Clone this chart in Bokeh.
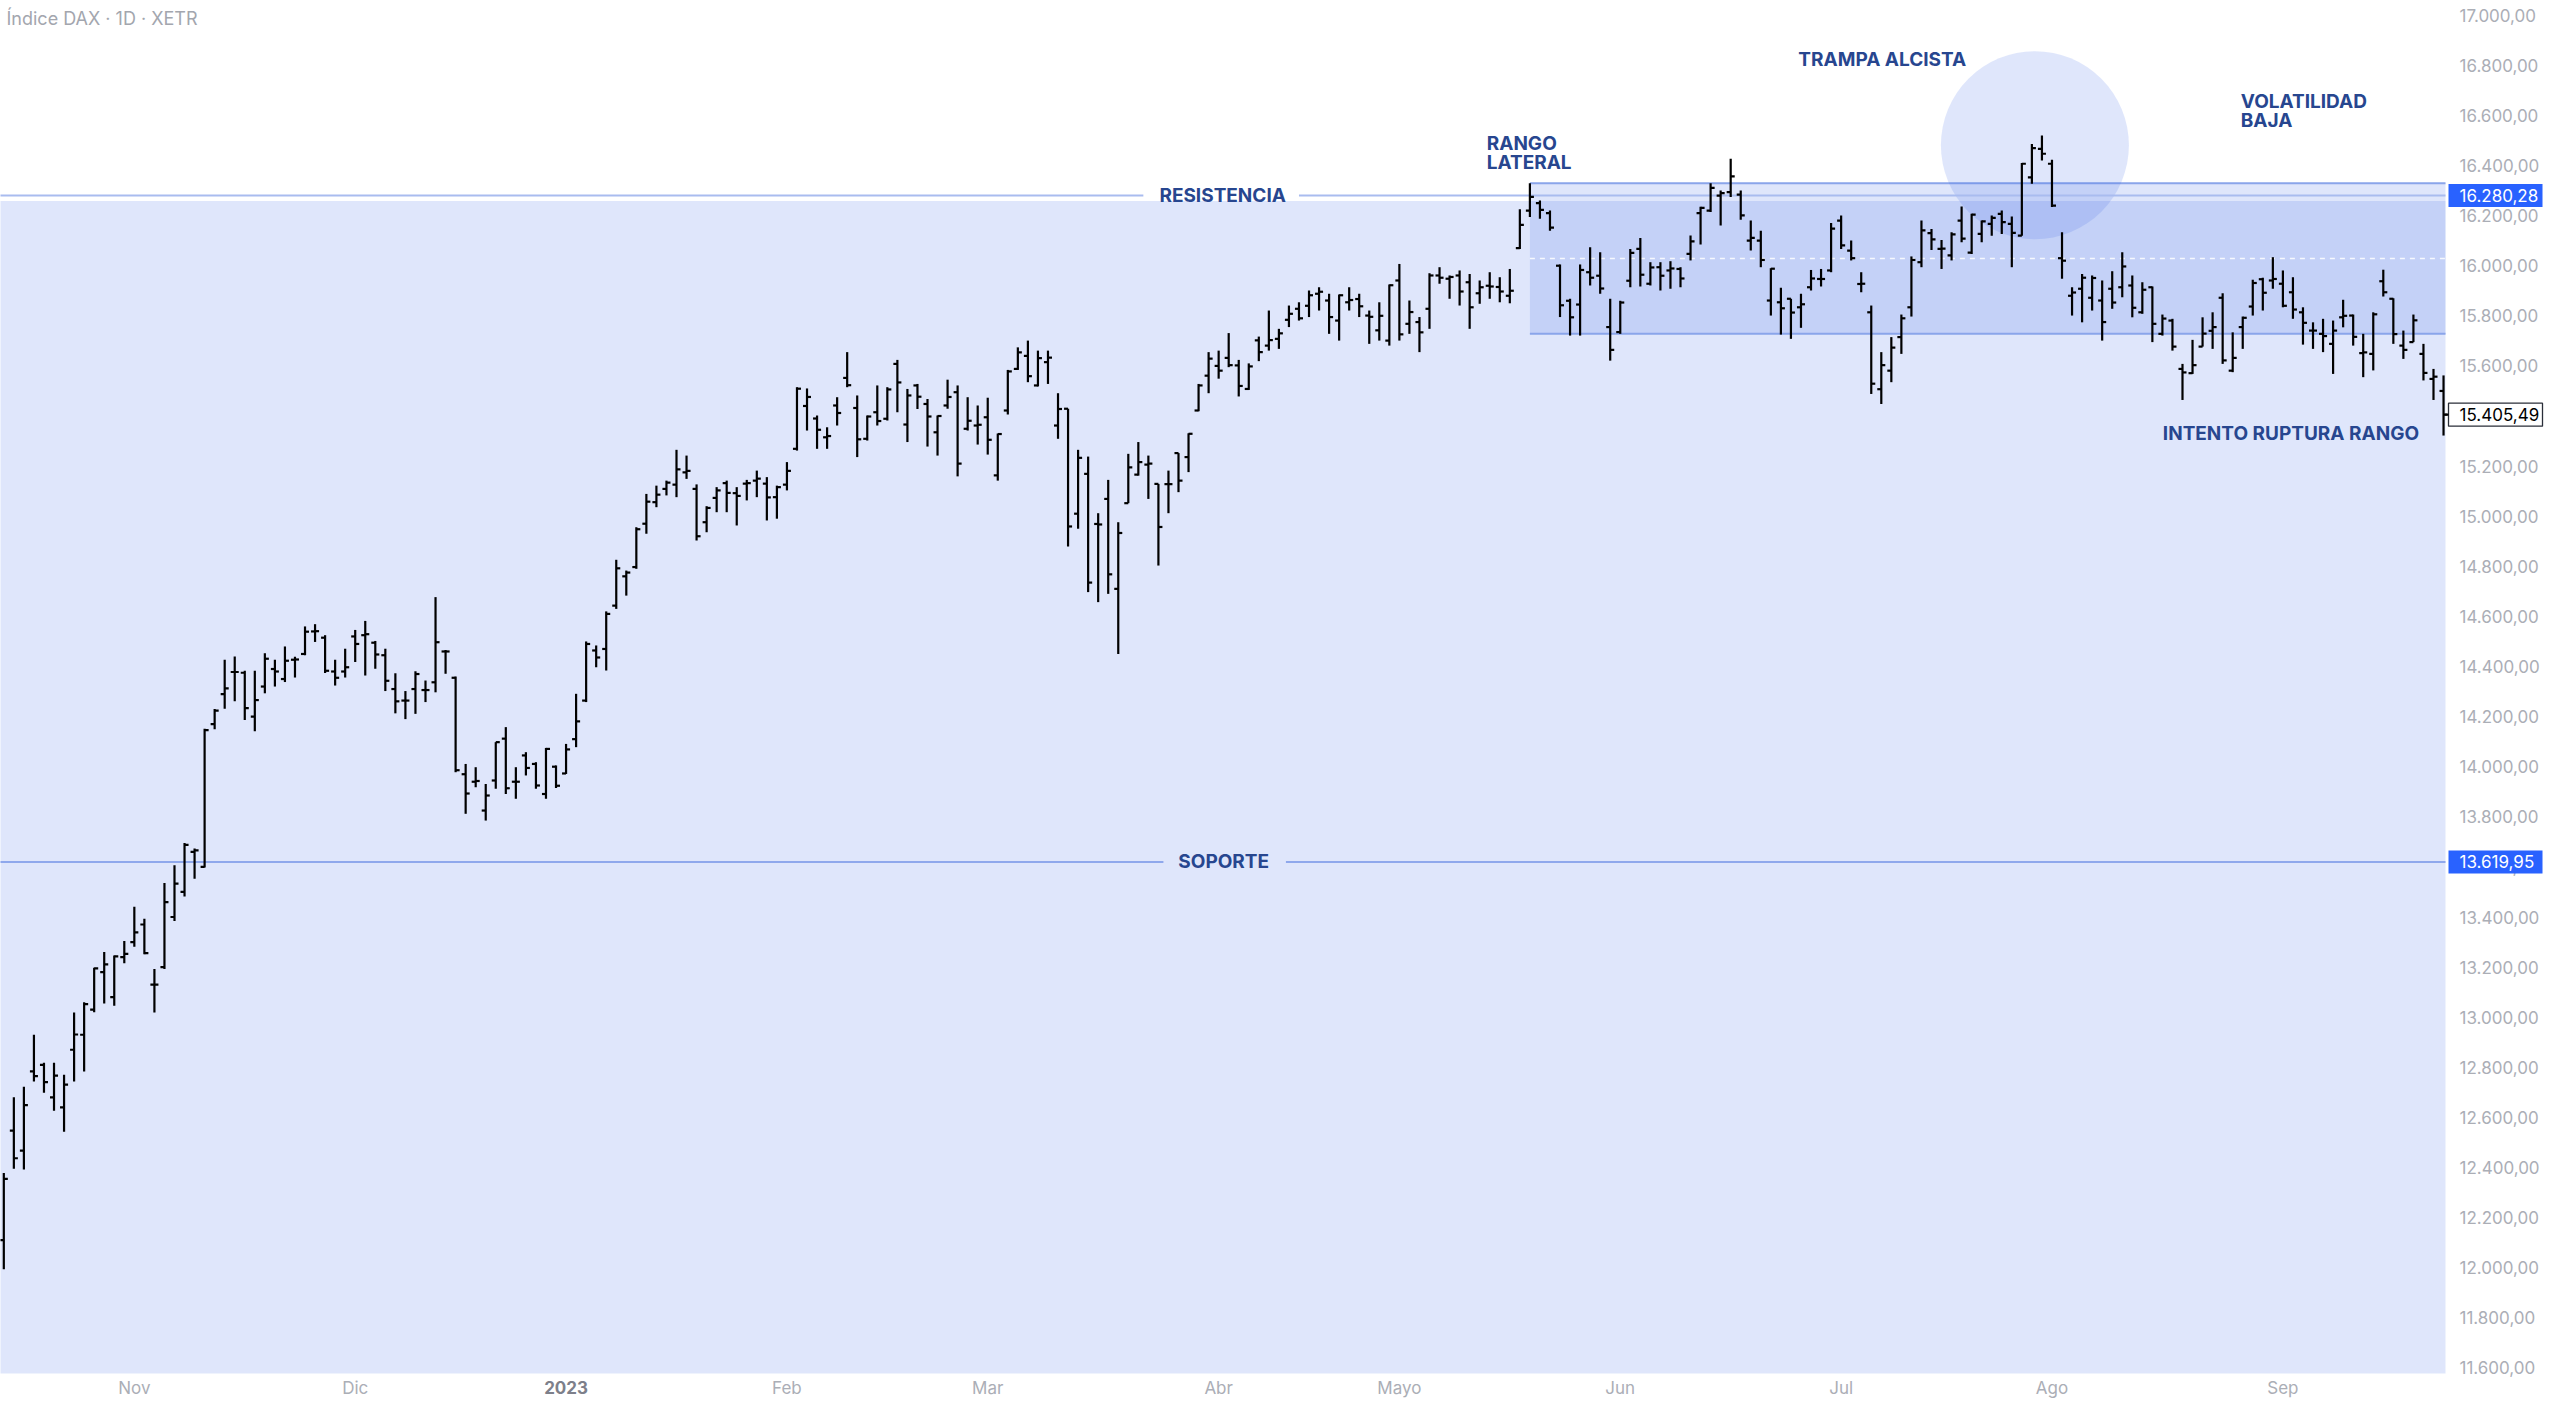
import numpy as np
import pandas as pd
from bokeh.plotting import figure
from bokeh.models import Range1d, ColumnDataSource
from bokeh.core.properties import value
from bokeh.embed import file_html
from bokeh.resources import INLINE

# ---------------- data (DAX daily OHLC, 13 Oct 2022 - 25 Sep 2023) ----
open_ = [12110, 12547, 12467, 12784, 12810, 12680, 12640, 12870, 12930, 13030,
         13180, 13080, 13240, 13300, 13370, 13130, 13200, 13400, 13500, 13660,
         13600, 14170, 14290, 14378, 14375, 14200, 14320, 14390, 14350, 14427,
         14450, 14540, 14515, 14380, 14380, 14520, 14525, 14495, 14445, 14310,
         14264, 14310, 14306, 14337, 14460, 14355, 13970, 13940, 13825, 13945,
         14112, 13940, 14045, 14011, 13891, 14000, 13973, 14110, 14264, 14464,
         14470, 14643, 14760, 14797, 14970, 15056, 15109, 15126, 15175, 15109,
         14976, 15073, 15132, 15092, 15130, 15142, 15130, 15076, 15126, 15269,
         15440, 15390, 15315, 15442, 15552, 15432, 15309, 15415, 15389, 15608,
         15366, 15522, 15448, 15335, 15442, 15495, 15349, 15362, 15395, 15163,
         15422, 15588, 15640, 15522, 15615, 15362, 15429, 15010, 15169, 14969,
         15069, 14710, 15052, 15166, 15206, 15129, 15128, 15252, 15236, 15422,
         15561, 15600, 15632, 15602, 15508, 15702, 15681, 15708, 15784, 15828,
         15840, 15888, 15861, 15781, 15854, 15867, 15801, 15742, 15701, 15941,
         15768, 15775, 15828, 15961, 15948, 15961, 15934, 15890, 15920, 15915,
         15880, 16070, 16220, 16250, 16210, 16000, 15860, 15845, 15974, 15960,
         15755, 15735, 15940, 16067, 15928, 15994, 15981, 15987, 16047, 16210,
         16220, 16280, 16294, 16284, 16100, 16100, 15861, 15854, 15868, 15834,
         15914, 15947, 15981, 16180, 16060, 15927, 15814, 15507, 15581, 15715,
         15834, 16014, 16130, 16067, 16041, 16180, 16052, 16127, 16167, 16207,
         16167, 16120, 16353, 16466, 16407, 16030, 15880, 15908, 15872, 15861,
         15908, 15914, 15921, 15814, 15914, 15728, 15781, 15588, 15571, 15677,
         15740, 15872, 15581, 15755, 15837, 15946, 15941, 15928, 15894, 15814,
         15741, 15728, 15688, 15794, 15801, 15651, 15648, 15938, 15868, 15681,
         15695, 15648, 15548, 15500]
high = [12378, 12680, 12722, 12930, 12818, 12818, 12770, 13019, 13060, 13197,
        13260, 13246, 13304, 13441, 13393, 13192, 13536, 13607, 13695, 13673,
        14152, 14230, 14427, 14440, 14383, 14383, 14453, 14427, 14480, 14439,
        14560, 14569, 14525, 14427, 14471, 14546, 14582, 14502, 14471, 14373,
        14302, 14381, 14344, 14677, 14466, 14360, 14011, 13998, 13931, 14098,
        14158, 13998, 14058, 14018, 14075, 14005, 14091, 14291, 14500, 14484,
        14620, 14826, 14783, 14956, 15089, 15122, 15142, 15265, 15242, 15127,
        15040, 15116, 15142, 15116, 15145, 15182, 15156, 15122, 15216, 15515,
        15510, 15402, 15355, 15475, 15655, 15482, 15402, 15522, 15515, 15624,
        15508, 15528, 15468, 15402, 15545, 15522, 15475, 15442, 15473, 15330,
        15584, 15674, 15701, 15661, 15661, 15491, 15429, 15265, 15238, 15012,
        15145, 14976, 15249, 15296, 15242, 15129, 15182, 15252, 15331, 15528,
        15655, 15661, 15731, 15624, 15610, 15717, 15821, 15748, 15841, 15854,
        15901, 15914, 15888, 15885, 15914, 15888, 15821, 15854, 15925, 16007,
        15861, 15795, 15970, 15994, 15961, 15981, 15967, 15941, 15974, 15954,
        15987, 16225, 16329, 16260, 16220, 16005, 15868, 16005, 16074, 16054,
        15868, 15860, 16067, 16111, 16014, 16014, 16018, 15994, 16121, 16235,
        16329, 16300, 16427, 16300, 16180, 16140, 15990, 15912, 15868, 15888,
        15983, 15987, 16170, 16200, 16101, 15974, 15841, 15655, 15715, 15805,
        16037, 16180, 16147, 16103, 16134, 16236, 16207, 16180, 16200, 16220,
        16196, 16410, 16486, 16520, 16423, 16134, 15914, 15967, 15961, 15941,
        15978, 16054, 15961, 15934, 15917, 15805, 15788, 15608, 15704, 15794,
        15814, 15890, 15734, 15797, 15944, 15952, 16034, 15981, 15954, 15834,
        15774, 15788, 15781, 15864, 15805, 15728, 15814, 15984, 15870, 15741,
        15805, 15688, 15588, 15562]
low = [11994, 12395, 12392, 12743, 12698, 12627, 12543, 12743, 12783, 13020,
       13055, 13046, 13215, 13281, 13251, 13019, 13192, 13384, 13482, 13553,
       13598, 14150, 14231, 14261, 14186, 14142, 14293, 14320, 14338, 14356,
       14445, 14498, 14374, 14324, 14356, 14418, 14364, 14391, 14302, 14213,
       14190, 14211, 14258, 14297, 14371, 13978, 13812, 13918, 13785, 13912,
       13891, 13872, 13965, 13912, 13872, 13915, 13971, 14078, 14258, 14397,
       14384, 14630, 14683, 14790, 14930, 15036, 15083, 15076, 15149, 14903,
       14936, 15016, 15016, 14963, 15063, 15076, 14983, 14990, 15103, 15262,
       15342, 15269, 15269, 15362, 15515, 15236, 15302, 15362, 15382, 15415,
       15296, 15428, 15278, 15242, 15429, 15159, 15342, 15286, 15246, 15142,
       15406, 15584, 15535, 15518, 15528, 15309, 14879, 14950, 14697, 14657,
       14690, 14450, 15052, 15162, 15069, 14803, 15012, 15096, 15176, 15419,
       15491, 15549, 15595, 15478, 15504, 15619, 15661, 15668, 15755, 15781,
       15795, 15821, 15728, 15701, 15821, 15795, 15688, 15701, 15681, 15701,
       15728, 15655, 15748, 15928, 15868, 15841, 15748, 15848, 15868, 15854,
       15850, 16067, 16194, 16187, 16140, 15795, 15721, 15721, 15921, 15888,
       15621, 15728, 15914, 15917, 15921, 15901, 15908, 15914, 16021, 16085,
       16214, 16160, 16274, 16183, 16061, 15994, 15801, 15725, 15708, 15752,
       15901, 15917, 15974, 16067, 16021, 15894, 15488, 15448, 15535, 15648,
       15797, 15994, 16063, 15987, 16021, 16094, 16047, 16094, 16120, 16127,
       15994, 16120, 16327, 16420, 16234, 15948, 15801, 15774, 15821, 15701,
       15828, 15874, 15794, 15808, 15695, 15721, 15661, 15464, 15568, 15677,
       15668, 15608, 15575, 15668, 15801, 15821, 15908, 15834, 15788, 15685,
       15668, 15655, 15568, 15754, 15681, 15555, 15582, 15877, 15688, 15628,
       15695, 15542, 15464, 15322]
close = [12355, 12437, 12649, 12765, 12741, 12767, 12731, 12931, 13052, 13195,
         13211, 13243, 13253, 13339, 13256, 13130, 13459, 13533, 13688, 13666,
         14146, 14224, 14313, 14378, 14234, 14266, 14431, 14380, 14423, 14428,
         14539, 14541, 14383, 14355, 14397, 14490, 14529, 14448, 14343, 14261,
         14264, 14370, 14306, 14497, 14460, 13986, 13893, 13943, 13885, 14098,
         13914, 13940, 13995, 13925, 14071, 13924, 14069, 14181, 14490, 14436,
         14610, 14792, 14775, 14948, 15058, 15086, 15134, 15187, 15181, 14920,
         15033, 15103, 15093, 15081, 15132, 15150, 15075, 15116, 15181, 15509,
         15476, 15345, 15320, 15412, 15523, 15307, 15398, 15380, 15506, 15534,
         15482, 15477, 15398, 15400, 15476, 15210, 15381, 15365, 15305, 15328,
         15578, 15654, 15559, 15631, 15633, 15428, 14959, 15233, 14735, 14967,
         14768, 14933, 15195, 15216, 15210, 14957, 15128, 15142, 15329, 15522,
         15629, 15581, 15603, 15520, 15598, 15655, 15703, 15730, 15808, 15790,
         15882, 15896, 15795, 15882, 15863, 15838, 15796, 15800, 15922, 15726,
         15815, 15734, 15961, 15952, 15955, 15897, 15834, 15914, 15917, 15897,
         15900, 16163, 16275, 16223, 16152, 15842, 15794, 15983, 15952, 15909,
         15664, 15853, 16051, 15964, 15993, 15960, 15989, 15949, 16097, 16231,
         16311, 16290, 16357, 16201, 16111, 16023, 15988, 15830, 15813, 15846,
         15949, 15947, 16148, 16081, 16030, 15928, 15529, 15603, 15673, 15790,
         16023, 16141, 16105, 16068, 16125, 16108, 16204, 16177, 16191, 16174,
         16131, 16407, 16469, 16447, 16240, 16020, 15893, 15952, 15951, 15775,
         15853, 15997, 15832, 15904, 15768, 15789, 15677, 15574, 15603, 15729,
         15755, 15622, 15632, 15792, 15931, 15892, 15947, 15840, 15825, 15772,
         15741, 15719, 15741, 15800, 15716, 15654, 15806, 15894, 15727, 15664,
         15782, 15572, 15557, 15405.49]

holidays = ["2022-12-26", "2023-04-07", "2023-04-10", "2023-05-01"]
month_labels = {11: "Nov", 12: "Dic", 1: "2023", 2: "Feb", 3: "Mar", 4: "Abr",
                5: "Mayo", 6: "Jun", 7: "Jul", 8: "Ago", 9: "Sep"}
price_ticks = list(range(11600, 17001, 200))
resistance = 16280.28
support = 13619.95
range_top, range_bottom = 16329, 15728

dates = pd.bdate_range("2022-10-13", "2023-09-25")
dates = dates[~dates.isin(pd.to_datetime(holidays))]
n = len(close)
assert len(open_) == len(high) == len(low) == n == len(dates)

month_idx = [k for k in range(1, n) if dates[k].month != dates[k - 1].month]


def eu(v):
    return f"{v:,.2f}".replace(",", "X").replace(".", ",").replace("X", ".")


# ---------------- layout: one frame covering the whole canvas ----------------
W, H = 2544, 1399
X0 = -0.33
SX = 10.04                       # pixels per bar
X1 = X0 + W / SX
PPX = 0.2505                     # pixels per index point
Y1 = 17058.7
Y0 = Y1 - H / PPX


def px_to_idx(px):
    return X0 + px / SX


def py_to_price(py):
    return Y1 - py / PPX


XR = px_to_idx(2445)             # right edge of the price pane
YB = py_to_price(1373)           # bottom edge of the price pane
TXT_X = px_to_idx(2459)          # left edge of price-scale texts

FONT = "Inter"
NAVY = "#27468f"
BLUE = "#426ae8"
GREY = "#abaeb6"

p = figure(width=W, height=H, x_range=Range1d(X0, X1), y_range=Range1d(Y0, Y1),
           output_backend="svg", toolbar_location=None,
           x_axis_location=None, y_axis_location=None,
           min_border_left=0, min_border_top=0, min_border_bottom=0, min_border_right=0)
p.grid.visible = False
p.outline_line_color = None
p.background_fill_color = "white"
p.border_fill_color = "white"

# shaded zones
p.quad(left=[X0 - 5], right=[XR], bottom=[YB], top=[16258],
       fill_color=BLUE, fill_alpha=0.17, line_color=None)
p.quad(left=[152], right=[XR], bottom=[range_bottom], top=[range_top],
       fill_color=BLUE, fill_alpha=0.17, line_color=None)
p.segment(x0=[152, 152], y0=[range_top, range_bottom], x1=[XR, XR],
          y1=[range_top, range_bottom], line_color="#8aa5ea", line_width=2)
p.segment(x0=[152], y0=[(range_top + range_bottom) / 2], x1=[XR],
          y1=[(range_top + range_bottom) / 2], line_color="white", line_alpha=0.85,
          line_width=1.5, line_dash="5 5")
p.scatter(x=[202.3], y=[16481], size=188, marker="circle", fill_color=BLUE,
          fill_alpha=0.17, line_color=None)

# horizontal levels, broken around their labels
p.segment(x0=[X0 - 5, 129.0], y0=[resistance, resistance], x1=[113.5, XR],
          y1=[resistance, resistance], line_color="#a9bcef", line_width=2)
p.segment(x0=[X0 - 5, 127.7], y0=[support, support], x1=[115.5, XR],
          y1=[support, support], line_color="#8fa8ec", line_width=2)

# OHLC bars
x = np.arange(n)
src = ColumnDataSource(dict(x=x, xl=x - 0.4, xr=x + 0.4, o=open_, h=high, l=low, c=close))
p.segment(x0="x", y0="l", x1="x", y1="h", source=src, line_color="#000000", line_width=2.2)
p.segment(x0="xl", y0="o", x1="x", y1="o", source=src, line_color="#000000", line_width=2.2)
p.segment(x0="x", y0="c", x1="xr", y1="c", source=src, line_color="#000000", line_width=2.2)


def txt(xs, ys, texts, align="left", size="19px", color=NAVY, style="bold"):
    p.text(x=xs, y=ys, text=texts, text_font=value(FONT), text_font_size=size,
           text_font_style=style, text_color=color, text_align=align,
           text_baseline="middle")


# price scale (right) and time scale (bottom)
txt([TXT_X] * len(price_ticks), price_ticks, [eu(v) for v in price_ticks],
    size="17px", color=GREY, style="normal")
reg = [k for k in month_idx if dates[k].month != 1]
yr = [k for k in month_idx if dates[k].month == 1]
txt(reg, [py_to_price(1387)] * len(reg), [month_labels[dates[k].month] for k in reg],
    align="center", size="17px", color=GREY, style="normal")
txt(yr, [py_to_price(1387)] * len(yr), [month_labels[1] for _ in yr],
    align="center", size="17px", color="#7d808a", style="bold")

# price tags on the scale
half = 11.5 / PPX
tags_y = [resistance, support]
p.quad(left=[px_to_idx(2448)] * 2, right=[px_to_idx(2542)] * 2,
       bottom=[v - half for v in tags_y], top=[v + half for v in tags_y],
       fill_color="#2962ff", line_color=None)
txt([TXT_X] * 2, tags_y, [eu(v) for v in tags_y], size="17px",
    color="white", style="normal")
p.quad(left=[px_to_idx(2448)], right=[px_to_idx(2542)], bottom=[close[-1] - half],
       top=[close[-1] + half], fill_color="white", line_color="#2a2e39", line_width=1.3)
p.segment(x0=[px_to_idx(2444)], y0=[close[-1]], x1=[px_to_idx(2448)], y1=[close[-1]],
          line_color="#000000", line_width=2)
txt([TXT_X], [close[-1]], [eu(close[-1])], size="17px",
    color="#000000", style="normal")

# chart annotations
txt([121.4], [resistance], ["RESISTENCIA"], align="center")
txt([121.5], [support], ["SOPORTE"], align="center")
txt([147.7, 147.7], [16488, 16412], ["RANGO", "LATERAL"])
txt([187.1], [16822], ["TRAMPA ALCISTA"], align="center")
txt([222.8, 222.8], [16655, 16578], ["VOLATILIDAD", "BAJA"])
txt([227.8], [15329], ["INTENTO RUPTURA RANGO"], align="center")
txt([px_to_idx(6)], [py_to_price(18)], ["Índice DAX · 1D · XETR"], size="18px",
    color="#a3a6ae", style="normal")

open("out.html", "w").write(file_html(p, INLINE))
